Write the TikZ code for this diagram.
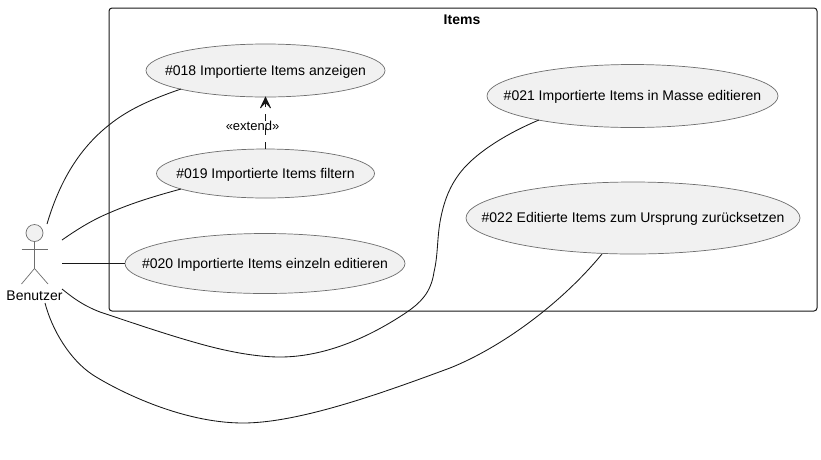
\documentclass[tikz,border=0pt]{standalone}
\usepackage{fontspec}
\setmainfont{Liberation Sans}
\usetikzlibrary{shapes.geometric,arrows.meta}
\definecolor{ucfill}{HTML}{F1F1F1}
\definecolor{ucline}{HTML}{181818}
\definecolor{ucedge}{HTML}{6E6E6E}
\newcommand{\uctext}[1]{\raisebox{-4.7pt}[0pt][0pt]{\makebox[0pt]{#1}}}
\tikzset{
 usecase/.style={ellipse,draw=ucedge,fill=ucfill,line width=0.7pt,inner sep=0pt,font=\fontsize{14}{16}\selectfont},
 assoc/.style={draw=ucline,line width=0.85pt},
 actorline/.style={draw=ucedge,line width=0.7pt},
 lbl/.style={font=\fontsize{14}{16}\selectfont,inner sep=0pt}
}
\begin{document}
\begin{tikzpicture}[x=1pt,y=-1pt]
\useasboundingbox (0,0) rectangle (821,459);
\fill[white] (0,0) rectangle (821,459);
\node[draw=ucline,line width=1pt,rounded corners=3pt,minimum width=708pt,minimum height=303pt,inner sep=0pt] (frame) at (463,159.5) {};
\node[lbl,font=\fontsize{14}{16}\selectfont\bfseries] (title) at (462,19.5) {Items};
\node[usecase,minimum width=239pt,minimum height=53pt] (u18) at (265.5,70.5) {\uctext{\#018 Importierte Items anzeigen}};
\node[usecase,minimum width=218pt,minimum height=49pt] (u19) at (265.5,173.5) {\uctext{\#019 Importierte Items filtern}};
\node[usecase,minimum width=280pt,minimum height=60pt] (u20) at (265,263.5) {\uctext{\#020 Importierte Items einzeln editieren}};
\node[usecase,minimum width=291pt,minimum height=63pt] (u21) at (632.5,96) {\uctext{\#021 Importierte Items in Masse editieren}};
\node[usecase,minimum width=334pt,minimum height=72pt] (u22) at (633,218) {\uctext{\#022 Editierte Items zum Ursprung zurücksetzen}};
% actor
\node[circle,draw=ucedge,fill=ucfill,line width=0.7pt,minimum size=17pt,inner sep=0pt] (head) at (34.5,233) {};
\coordinate (hip) at (34.5,268.5);
\coordinate (armL) at (21.5,249);
\coordinate (armR) at (48,249);
\coordinate (footL) at (21.5,284);
\coordinate (footR) at (48,284);
\draw[actorline] (head.south) -- (hip) -- (footL);
\draw[actorline] (hip) -- (footR);
\draw[actorline] (armL) -- (armR);
\node[lbl] (benutzer) at (34.5,295.5) {Benutzer};
% connector free ends
\coordinate (a18) at (47,224);
\coordinate (a19) at (62,240);
\coordinate (a20) at (62,263.5);
\coordinate (a21) at (62,289);
\coordinate (a22) at (45,303);
\coordinate (e18) at (181,89);
\coordinate (e19) at (181,189);
\coordinate (e21) at (539,120);
\coordinate (e22) at (602,254);
\draw[assoc] (a18) .. controls (60,180) and (80,148) .. (109,125)
 .. controls (130,108) and (155,98) .. (e18);
\draw[assoc] (a19) .. controls (75,231) and (90,221) .. (109,213)
 .. controls (132,203) and (155,196) .. (e19);
\draw[assoc] (a20) -- (u20.west);
\draw[assoc] (a21) .. controls (72,297) and (82,305) .. (100,312)
 .. controls (130,322) and (165,334) .. (197,343)
 .. controls (225,351) and (255,357) .. (280,357)
 .. controls (325,357) and (370,337) .. (407,312)
 .. controls (420,303) and (431,293) .. (434,272)
 .. controls (438,255) and (437,240) .. (440,222)
 .. controls (443,205) and (448,190) .. (457,177)
 .. controls (473,153) and (510,132) .. (e21);
\draw[assoc] (a22) .. controls (52,330) and (70,360) .. (93,375)
 .. controls (115,389) and (180,423) .. (243,423)
 .. controls (300,423) and (385,392) .. (450,368)
 .. controls (500,348) and (560,305) .. (e22);
% extend
\draw[draw=ucline,line width=0.8pt,dash pattern=on 7pt off 7pt] (u19.north) -- (u18.south);
\draw[draw=ucline,line width=1pt,line join=miter] (260.5,108) -- (265.5,97.5) -- (270.5,108);
\fill[ucline] (260.5,108) -- (265.5,97.5) -- (270.5,108) -- (265.5,103) -- cycle;
\node[lbl,font=\fontsize{13}{15}\selectfont] (ext) at (252.5,125.5) {«extend»};
\end{tikzpicture}
\end{document}
